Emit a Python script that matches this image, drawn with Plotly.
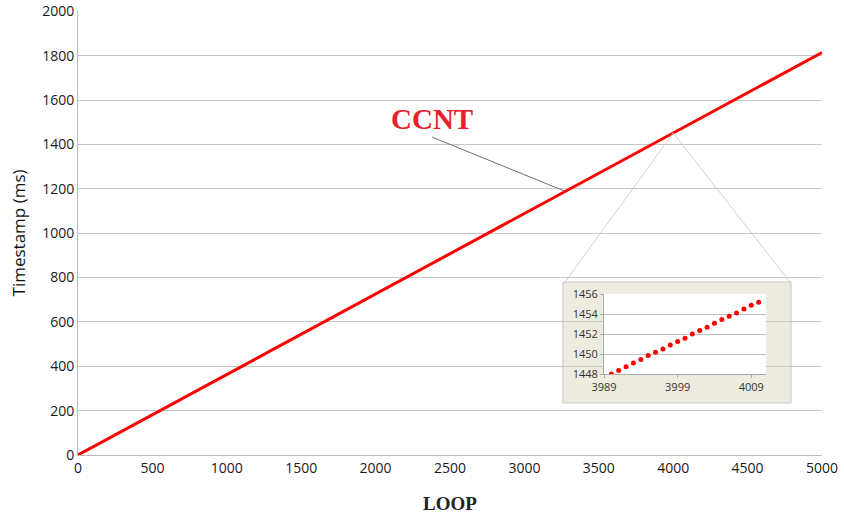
import plotly.graph_objects as go

# Main series (CCNT timestamps vs loop)
loop = [0, 1000, 2000, 3000, 4000, 5000]
timestamp_ms = [0, 363, 726, 1089, 1452, 1815]

# Inset zoom series
inset_loop = list(range(3990, 4011))
inset_ts = [1448.0, 1448.34, 1448.74, 1449.11, 1449.45, 1449.85, 1450.18, 1450.52,
            1450.92, 1451.26, 1451.60, 1452.03, 1452.37, 1452.71, 1453.11, 1453.48,
            1453.82, 1454.15, 1454.55, 1454.92, 1455.23]

x_ticks = [0, 500, 1000, 1500, 2000, 2500, 3000, 3500, 4000, 4500, 5000]
y_ticks = [0, 200, 400, 600, 800, 1000, 1200, 1400, 1600, 1800, 2000]
inset_x_ticks = [3989, 3999, 4009]
inset_y_ticks = [1448, 1450, 1452, 1454, 1456]

W, H = 844, 514
L, R, T, B = 78, 22, 11, 59
pw, ph = W - L - R, H - T - B
YMAX = 2002

def px(xp):
    return (xp - L) / pw

def py(yp):
    return (H - B - yp) / ph

fig = go.Figure()
fig.add_trace(go.Scatter(x=loop, y=timestamp_ms, mode="lines",
                         line=dict(color="#FF0000", width=3), xaxis="x", yaxis="y",
                         showlegend=False, hoverinfo="skip"))
fig.add_trace(go.Scatter(x=inset_loop, y=inset_ts, mode="markers",
                         marker=dict(color="#FF0000", size=5), xaxis="x2", yaxis="y2",
                         showlegend=False))

tick_font = dict(family="Open Sans, Liberation Sans, sans-serif", size=14, color="#1a1a1a")
small_font = dict(family="Open Sans, Liberation Sans, sans-serif", size=11, color="#333333")

# inset box geometry (paper)
bx0, bx1 = px(563), px(791)
by0, by1 = py(403), py(282)
ix0, ix1 = px(604), px(766)
iy0, iy1 = py(374), py(294)

fig.update_layout(
    width=W, height=H,
    margin=dict(l=L, r=R, t=T, b=B),
    paper_bgcolor="white", plot_bgcolor="white",
    xaxis=dict(range=[0, 5000], tickvals=x_ticks, showgrid=False, showline=True,
               linecolor="#BBBBBB", linewidth=1, ticks="", tickfont=tick_font,
               zeroline=False, domain=[0, 1], automargin=False,
               title=dict(text="<b>LOOP</b>", font=dict(family="Liberation Serif, Times New Roman, serif",
                                                  size=19, color="#222222"), standoff=22)),
    yaxis=dict(range=[0, YMAX], tickvals=y_ticks, showgrid=True, gridcolor="#C8C8C8",
               gridwidth=1, showline=True, linecolor="#BBBBBB", ticks="", tickfont=tick_font,
               zeroline=False, domain=[0, 1], automargin=False,
               title=dict(text="Timestamp (ms)", font=dict(family="Open Sans, Liberation Sans, sans-serif",
                                                            size=17, color="#111111"), standoff=12)),
    xaxis2=dict(range=[3989, 4011], tickvals=inset_x_ticks, domain=[ix0, ix1], anchor="y2",
                showgrid=False, showline=True, linecolor="#AAAAAA", ticks="outside",
                ticklen=3, tickcolor="#AAAAAA", tickfont=small_font, zeroline=False,
                automargin=False),
    yaxis2=dict(range=[1448, 1456.05], tickvals=inset_y_ticks, domain=[iy0, iy1], anchor="x2",
                showgrid=True, gridcolor="#C0C0C0", showline=True, linecolor="#AAAAAA",
                ticks="outside", ticklen=3, tickcolor="#AAAAAA", tickfont=small_font,
                zeroline=False, automargin=False),
    shapes=[
        # zoom triangle lines
        dict(type="line", xref="x", yref="y", x0=4000, y0=1452, x1=(565 - L) / pw * 5000,
             y1=(H - B - 282) / ph * YMAX, line=dict(color="#D0D0D0", width=1), layer="above"),
        dict(type="line", xref="x", yref="y", x0=4000, y0=1452, x1=(790 - L) / pw * 5000,
             y1=(H - B - 282) / ph * YMAX, line=dict(color="#D0D0D0", width=1), layer="above"),
        # inset background box
        dict(type="rect", xref="paper", yref="paper", x0=bx0, x1=bx1, y0=by0, y1=by1,
             fillcolor="#EEEBE1", line=dict(color="#C8C6BE", width=1), layer="below"),
        dict(type="rect", xref="paper", yref="paper", x0=ix0, x1=ix1, y0=iy0, y1=iy1,
             fillcolor="white", line=dict(width=0), layer="below"),
    ],
    annotations=[
        dict(text="<b>CCNT</b>", xref="x", yref="y", x=3270, y=1190,
             ax=432 - L - (3270 / 5000 * pw), ay=-54, axref="pixel", ayref="pixel",
             showarrow=True, arrowhead=0, arrowwidth=1, arrowcolor="#707070",
             standoff=0, startstandoff=0,
             font=dict(family="Liberation Serif, Times New Roman, serif", size=29, color="#E8202A"),
             yanchor="bottom"),
    ],
)

fig.write_html("out.html")
